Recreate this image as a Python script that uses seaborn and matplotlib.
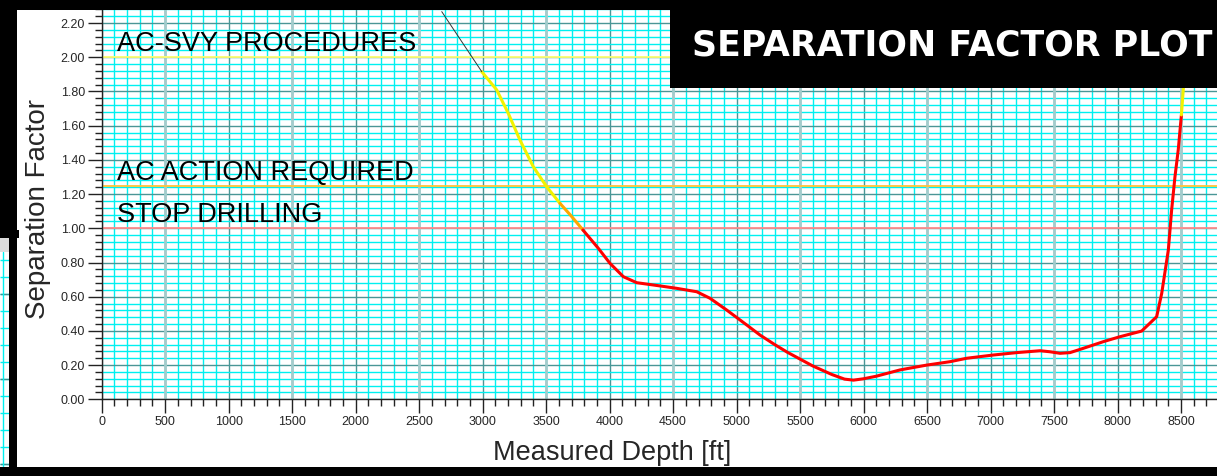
import numpy as np
import pandas as pd
import matplotlib
matplotlib.use("Agg")
import matplotlib.pyplot as plt
from matplotlib.patches import Rectangle
from matplotlib.ticker import MultipleLocator, FormatStrFormatter
import seaborn as sns

# ---------------- data ----------------
depth_ft = [2678, 2993, 3111, 3202, 3294, 3399, 3504, 3609, 3700, 3790, 3911,
            4003, 4108, 4213, 4397, 4528, 4686, 4790, 4922, 5079, 5184, 5300,
            5400, 5500, 5600, 5750, 5850, 5920, 6000, 6100, 6288, 6497, 6681,
            6812, 7022, 7206, 7390, 7468, 7547, 7626, 7730, 7888, 8019, 8190,
            8308, 8348, 8400, 8426, 8452, 8478, 8503, 8518, 8535]
sep_factor = [2.267, 1.916, 1.809, 1.672, 1.516, 1.360, 1.243, 1.146, 1.07, 0.99, 0.883,
              0.795, 0.717, 0.682, 0.663, 0.649, 0.629, 0.591, 0.522, 0.435, 0.376, 0.32,
              0.275, 0.235, 0.195, 0.145, 0.118, 0.112, 0.12, 0.135, 0.172, 0.20, 0.22,
              0.24, 0.259, 0.273, 0.284, 0.278, 0.269, 0.273, 0.298, 0.337, 0.366, 0.399,
              0.483, 0.62, 0.873, 1.107, 1.30, 1.458, 1.663, 1.815, 2.05]

# colour segments of the trace: (start depth, end depth, name)
segment_names = ["projection", "caution", "warning", "stop", "caution2"]
segment_start = [2678, 2993, 3609, 3790, 8503]
segment_end = [2993, 3609, 3790, 8503, 8535]
segment_colors = {"projection": "#333333", "caution": "#f2f200", "warning": "#ffa800",
                  "stop": "#ff0000", "caution2": "#f2f200"}

threshold_values = [2.0, 1.25, 1.0]
threshold_colors = ["#ffff70", "#ffc23a", "#ff8c8c"]
zone_labels = ["AC-SVY PROCEDURES", "AC ACTION REQUIRED", "STOP DRILLING"]
zone_label_y = [2.035, 1.285, 1.035]

title_text = "SEPARATION FACTOR PLOT"
x_label = "Measured Depth [ft]"
y_label = "Separation Factor"

# ---------------- build table ----------------
rows = []
for name, s, e in zip(segment_names, segment_start, segment_end):
    for d, v in zip(depth_ft, sep_factor):
        if s <= d <= e:
            rows.append({"depth": d, "sf": v, "segment": name})
df = pd.DataFrame(rows)

# ---------------- figure ----------------
W, H = 1217, 476
sns.set_style("white")
plt.rcParams["font.family"] = ["Liberation Sans", "DejaVu Sans"]
fig = plt.figure(figsize=(W / 100, H / 100), dpi=100)

def fig_box(x0, y0, x1, y1):
    return [x0 / W, 1 - y1 / H, (x1 - x0) / W, (y1 - y0) / H]

ax_left, ax_bottom = 101.7, 399.3
px_per_ft = 0.12698
px_per_sf = 171.0
ax = fig.add_axes(fig_box(ax_left, 0, W, ax_bottom))
x_max = (W - ax_left) / px_per_ft
ax.set_xlim(0, x_max)
ax.set_ylim(0, ax_bottom / px_per_sf)

ax.xaxis.set_major_locator(MultipleLocator(500))
ax.xaxis.set_minor_locator(MultipleLocator(100))
ax.yaxis.set_major_locator(MultipleLocator(0.2))
ax.yaxis.set_minor_locator(MultipleLocator(0.04))
ax.yaxis.set_major_formatter(FormatStrFormatter("%.2f"))

ax.grid(which="minor", color="#00f0f0", linewidth=1.0, zorder=0)
ax.grid(which="major", color="#4a9696", linewidth=1.0, zorder=0)
ax.set_axisbelow(True)
# half-thousand grid lines render paler and wider in the original
ax.vlines(np.arange(500, x_max, 1000), 0, 1, transform=ax.get_xaxis_transform(),
          color="#a3cccc", linewidth=2.0, zorder=0.8)

for v, c in zip(threshold_values, threshold_colors):
    ax.axhline(v, color=c, linewidth=1.3, zorder=2)

main = df[df.segment != "projection"]
sns.lineplot(data=main, x="depth", y="sf", hue="segment", palette=segment_colors,
             sort=False, legend=False, linewidth=2.2, ax=ax, zorder=3)
proj = df[df.segment == "projection"]
sns.lineplot(data=proj, x="depth", y="sf", color=segment_colors["projection"],
             sort=False, legend=False, linewidth=0.7, ax=ax, zorder=3)

for lab, yv in zip(zone_labels, zone_label_y):
    ax.text(120, yv, lab, fontsize=19.5, color="black", va="baseline", ha="left", zorder=4)

for side in ["top", "right"]:
    ax.spines[side].set_visible(False)
ax.spines["left"].set_color("#222222")
ax.spines["bottom"].set_color("#222222")
ax.spines["left"].set_linewidth(1.0)
ax.spines["bottom"].set_linewidth(1.0)

ax.tick_params(which="major", direction="out", length=10, width=1, color="#222222",
               labelsize=9, pad=2, left=True, bottom=True)
ax.tick_params(which="minor", direction="out", length=5, width=1, color="#222222",
               left=True, bottom=True)

ax.set_xlabel(x_label, fontsize=19.5)
ax.set_ylabel(y_label, fontsize=20)
aw = W - ax_left
ax.xaxis.set_label_coords((612 - ax_left) / aw, (ax_bottom - 440) / ax_bottom)
ax.yaxis.set_label_coords((51 - ax_left) / aw, (ax_bottom - 209) / ax_bottom)

# ---------------- frame decorations ----------------
def rect(x0, y0, x1, y1, color, z=10):
    fig.add_artist(Rectangle((x0 / W, 1 - y1 / H), (x1 - x0) / W, (y1 - y0) / H,
                             transform=fig.transFigure, facecolor=color,
                             edgecolor="none", zorder=z))

# piece of another chart behind, bottom-left
side_ax = fig.add_axes(fig_box(0, 252, 9, 468))
side_ax.set_xlim(0, 1)
side_ax.set_ylim(0, 216)
side_ax.hlines(np.arange(4, 216, 17), 0, 1, color="#00f0f0", linewidth=1.0)
side_ax.hlines(np.arange(4, 216, 85), 0, 1, color="#3f8f8f", linewidth=1.0)
side_ax.axvline(0.3, color="#00f0f0", linewidth=1.0)
side_ax.axis("off")
rect(0, 238, 9, 252, "#dcdcdc")

rect(0, 0, W, 10, "black")          # top band
rect(0, 0, 17, 232, "black")        # left band upper
rect(0, 230, 19, 238, "black")      # step
rect(9, 230, 17, H, "black")        # left band lower
rect(0, 467, W, H, "black")         # bottom band
rect(670, 0, W, 88, "black", z=11)  # title box
fig.text(692 / W, 1 - 55.5 / H, title_text, color="white", fontsize=25,
         fontweight="bold", family=["DejaVu Sans"],
         ha="left", va="baseline", zorder=12)

fig.savefig("out.png", dpi=100)
